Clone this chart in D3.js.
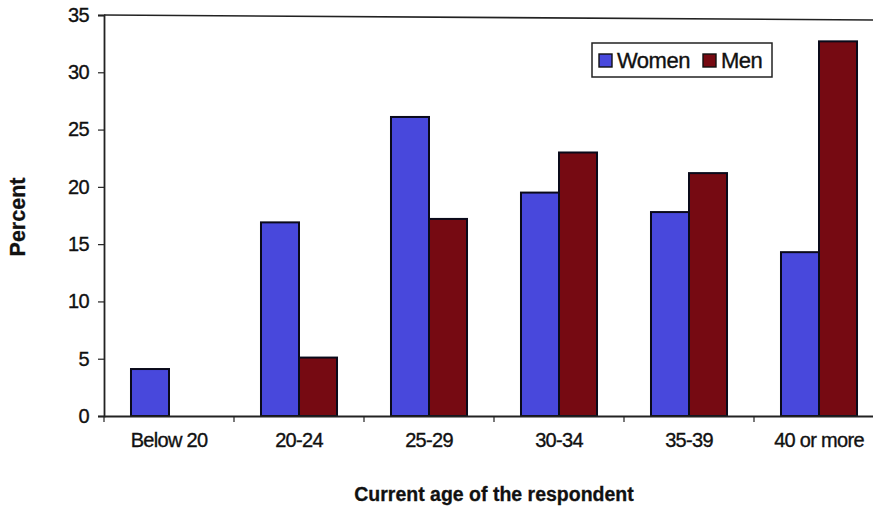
<!DOCTYPE html>
<html>
<head>
<meta charset="utf-8">
<script src="https://cdn.jsdelivr.net/npm/d3@7"></script>
<style>
  html, body { margin: 0; padding: 0; background: #fff; }
  svg { display: block; font-family: "Liberation Sans", Arial, sans-serif; }
</style>
</head>
<body>
<svg id="chart" width="873" height="515"></svg>
<script>
const categories = ["Below 20", "20-24", "25-29", "30-34", "35-39", "40 or more"];
const seriesNames = ["Women", "Men"];
const women = [4.1, 16.9, 26.1, 19.5, 17.8, 14.3];
const men = [0, 5.1, 17.2, 23.0, 21.2, 32.7];
const yTicks = [0, 5, 10, 15, 20, 25, 30, 35];
const colors = { Women: "#4848dc", Men: "#760a12" };

(function () {
const svg = d3.select("#chart");
const pLeft = 104, pRight = 884, pTop = 15, pBottom = 416;

const x0 = d3.scaleBand().domain(categories).range([pLeft, pRight]).padding(0);
const x1 = d3.scaleBand().domain(seriesNames).range([0, x0.bandwidth()]).paddingInner(0).paddingOuter(0.71);
const y = d3.scaleLinear().domain([0, 35]).range([pBottom, pTop]);

const data = categories.map((c, i) => ({ cat: c, Women: women[i], Men: men[i] }));

// top frame line
svg.append("line")
  .attr("x1", pLeft).attr("x2", 873)
  .attr("y1", y(35)).attr("y2", y(35) + 5)
  .attr("stroke", "#222").attr("stroke-width", 1.6);

// bars
const groups = svg.append("g").selectAll("g").data(data).join("g")
  .attr("transform", d => `translate(${x0(d.cat)},0)`);
groups.selectAll("rect")
  .data(d => seriesNames.map(s => ({ s, v: d[s] })).filter(e => e.v > 0))
  .join("rect")
  .attr("x", d => x1(d.s))
  .attr("width", x1.bandwidth())
  .attr("y", d => y(d.v))
  .attr("height", d => y(0) - y(d.v))
  .attr("fill", d => colors[d.s])
  .attr("stroke", "#0a0a1a")
  .attr("stroke-width", 2);

// y axis
const yAxis = d3.axisLeft(y).tickValues(yTicks).tickSize(6).tickPadding(9);
const gy = svg.append("g").attr("transform", `translate(${pLeft},0)`).call(yAxis);
gy.select(".domain").attr("stroke", "#222").attr("stroke-width", 1.8);
gy.selectAll(".tick line").attr("stroke", "#222").attr("stroke-width", 1.2);
gy.selectAll(".tick text").attr("font-size", 20).attr("fill", "#111")
  .attr("stroke", "#111").attr("stroke-width", 0.35)
  .attr("font-family", "'Liberation Sans', Arial, sans-serif").attr("letter-spacing", -0.6);

// x axis
const xAxis = d3.axisBottom(x0).tickSize(0).tickPadding(17);
const gx = svg.append("g").attr("transform", `translate(0,${pBottom})`).call(xAxis);
gx.select(".domain").attr("stroke", "#222").attr("stroke-width", 1.8);
gx.selectAll(".tick text").attr("font-size", 20).attr("fill", "#111")
  .attr("stroke", "#111").attr("stroke-width", 0.35)
  .attr("font-family", "'Liberation Sans', Arial, sans-serif").attr("letter-spacing", -0.7);
// category boundary ticks
const bounds = categories.map(c => x0(c)).concat([x0(categories[categories.length - 1]) + x0.bandwidth()]);
svg.append("g").selectAll("line").data(bounds).join("line")
  .attr("x1", d => d).attr("x2", d => d)
  .attr("y1", pBottom).attr("y2", pBottom + 6)
  .attr("stroke", "#222").attr("stroke-width", 1.2);

// axis titles
svg.append("text")
  .attr("x", 494).attr("y", 501)
  .attr("text-anchor", "middle")
  .attr("font-size", 19.5).attr("font-weight", "bold").attr("fill", "#111")
  .attr("stroke", "#111").attr("stroke-width", 0.3)
  .text("Current age of the respondent");
svg.append("text")
  .attr("transform", "translate(25,217) rotate(-90)")
  .attr("text-anchor", "middle")
  .attr("font-size", 21.5).attr("font-weight", "bold").attr("fill", "#111")
  .attr("stroke", "#111").attr("stroke-width", 0.3)
  .text("Percent");

// legend
const lg = svg.append("g");
lg.append("rect").attr("x", 592).attr("y", 43).attr("width", 180).attr("height", 34)
  .attr("fill", "#fff").attr("stroke", "#222").attr("stroke-width", 1.5);
const legendItems = [
  { s: "Women", sx: 599, tx: 617 },
  { s: "Men", sx: 703, tx: 721 }
];
legendItems.forEach(it => {
  lg.append("rect").attr("x", it.sx).attr("y", 54).attr("width", 13).attr("height", 13)
    .attr("fill", colors[it.s]).attr("stroke", "#111").attr("stroke-width", 1.4);
  lg.append("text").attr("x", it.tx).attr("y", 68)
    .attr("font-size", 22).attr("fill", "#111").attr("letter-spacing", -0.5)
    .attr("stroke", "#111").attr("stroke-width", 0.35)
    .text(it.s);
});
})();
</script>
</body>
</html>
